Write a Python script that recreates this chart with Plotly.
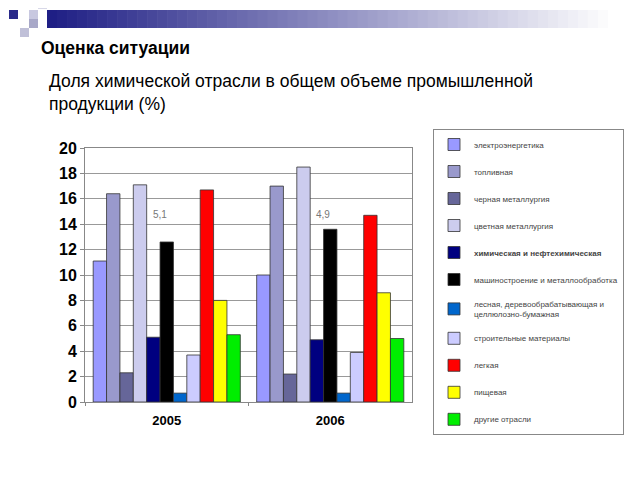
import plotly.graph_objects as go

years = ["2005", "2006"]
industries = [
    "электроэнергетика",
    "топливная",
    "черная металлургия",
    "цветная металлургия",
    "<b>химическая и нефтехимическая</b>",
    "машиностроение и металлообработка",
    "лесная, деревообрабатывающая и<br>целлюлозно-бумажная",
    "строительные материалы",
    "легкая",
    "пищевая",
    "другие отрасли",
]
values_2005 = [11.1, 16.4, 2.3, 17.1, 5.1, 12.6, 0.7, 3.7, 16.7, 8.0, 5.3]
values_2006 = [10.0, 17.0, 2.2, 18.5, 4.9, 13.6, 0.7, 3.9, 14.7, 8.6, 5.0]
chem_labels = ["5,1", "4,9"]

colors = ["#9999FF", "#9999CC", "#666699", "#CCCCEE", "#000080", "#000000",
          "#0066CC", "#CCCCFF", "#FF0000", "#FFFF00", "#00EE00"]

W, H = 640, 480
OFF = 8  # page body margin


def px(x):
    return (x - OFF) / W


def py(y):
    return 1 - (y - OFF) / H


fig = go.Figure()
for i, name in enumerate(industries):
    fig.add_trace(go.Bar(
        x=years, y=[values_2005[i], values_2006[i]], name=name,
        legendgroup=str(i),
        marker=dict(color=colors[i], line=dict(color="#333333", width=0.8)),
    ))

# decoration: gradient banner
shapes = []
n = 60
bx0, bx1 = px(47), px(648)
for k in range(n):
    t = min(1.0, k / (n - 4))
    r = int(31 + (255 - 31) * t)
    g = int(31 + (255 - 31) * t)
    b = int(133 + (255 - 133) * t)
    shapes.append(dict(type="rect", xref="paper", yref="paper",
                       x0=bx0 + (bx1 - bx0) * k / n, x1=bx0 + (bx1 - bx0) * (k + 1) / n + 0.001,
                       y0=py(28), y1=py(10),
                       fillcolor=f"rgb({r},{g},{b})", line=dict(width=0), layer="below"))
for (sx, sy, c) in [(9, 10, "#2a2a8a"), (29, 10, "#c8c8e0"), (38, 0, "#d8d8e8"),
                    (29, 19, "#a8a8c8"), (20, 28, "#c0c0d8")]:
    shapes.append(dict(type="rect", xref="paper", yref="paper",
                       x0=px(sx), x1=px(sx + 9), y0=py(sy + 9), y1=py(sy),
                       fillcolor=c, line=dict(width=0)))

annotations = [
    dict(text="<b>Оценка ситуации</b>", xref="paper", yref="paper", x=px(39), y=py(48),
         xanchor="left", yanchor="middle", showarrow=False,
         font=dict(size=17.5, family="Liberation Sans, Arial", color="black")),
    dict(text="Доля химической отрасли в общем объеме промышленной<br>продукции (%)",
         xref="paper", yref="paper", x=px(47), y=py(69), xanchor="left", yanchor="top",
         align="left", showarrow=False,
         font=dict(size=17.5, family="Liberation Sans, Arial", color="black")),
]
for idx, lab in enumerate(chem_labels):
    annotations.append(dict(text=lab, x=idx, y=14.8, xref="x", yref="y", xshift=-7,
                            showarrow=False, font=dict(size=10, color="#777777",
                                                       family="Liberation Sans, Arial")))

fig.update_layout(
    width=W, height=H,
    margin=dict(l=0, r=0, t=0, b=0, autoexpand=False),
    paper_bgcolor="white", plot_bgcolor="white",
    barmode="group", bargap=0.1, bargroupgap=0,
    font=dict(family="Liberation Sans, Arial"),
    xaxis=dict(type="category", range=[-0.5, 1.5], domain=[px(85), px(412)],
               showline=True, linecolor="#888888", mirror=True, automargin=False,
               tickfont=dict(size=13, color="black", family="Liberation Sans, Arial"),
               ticks="outside", tickson="boundaries", ticklen=3, tickcolor="#888888",
               ticklabelstandoff=6,
               tickprefix="<b>", ticksuffix="</b>"),
    yaxis=dict(domain=[py(402), py(148)], range=[0, 20], dtick=2,
               automargin=False,
               showgrid=True, gridcolor="#999999", gridwidth=1,
               showline=True, linecolor="#888888", mirror=True, ticks="outside", ticklen=4,
               tickcolor="#888888",
               tickfont=dict(size=16, color="black", family="Liberation Sans, Arial"),
               tickprefix="<b>", ticksuffix="</b>"),
    legend=dict(x=px(433), y=py(129), xanchor="left", yanchor="top",
                bordercolor="#888888", borderwidth=1, bgcolor="white",
                font=dict(size=8, color="#444444", family="Liberation Sans, Arial"),
                tracegroupgap=8, itemwidth=30, traceorder="grouped"),
    shapes=shapes,
    annotations=annotations,
)

fig.write_html("out.html")
